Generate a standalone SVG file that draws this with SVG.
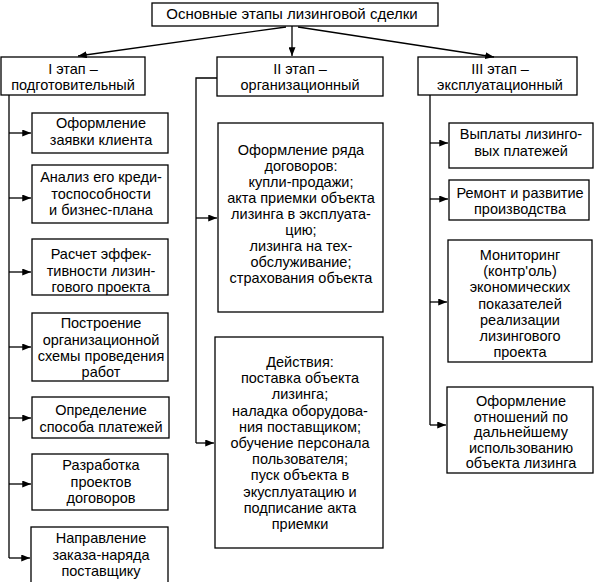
<svg xmlns="http://www.w3.org/2000/svg" width="599" height="582" viewBox="0 0 599 582">
<defs>
<marker id="arr" viewBox="0 0 10 8" refX="10" refY="4" markerWidth="9" markerHeight="7" markerUnits="userSpaceOnUse" orient="auto">
<path d="M0,0 L10,4 L0,8 Z" fill="#000"/>
</marker>
<style>
rect{fill:#fff;stroke:#000;stroke-width:1.3}
text{font-family:"Liberation Sans",Arial,sans-serif;font-size:14.5px;fill:#000;text-anchor:middle}
.c line,.c path{stroke:#000;stroke-width:1.3;fill:none}
</style>
</defs>
<rect x="0" y="0" width="599" height="582" style="stroke:none"/>
<g id="title"><rect x="152" y="3" width="286" height="23"/><text x="292" y="19" style="font-size:15px">Основные этапы лизинговой сделки</text></g>
<g id="h1"><rect x="1" y="57" width="144" height="38"/><text x="73" y="74">I этап –</text><text x="73" y="90">подготовительный</text></g>
<g id="h2"><rect x="217" y="57" width="166" height="39"/><text x="300" y="74">II этап –</text><text x="300" y="90">организационный</text></g>
<g id="h3"><rect x="418" y="57" width="159" height="38"/><text x="500" y="74">III этап –</text><text x="500" y="90">эксплуатационный</text></g>
<g id="l1"><rect x="32" y="113" width="136" height="40"/><text x="101" y="128">Оформление</text><text x="101" y="145">заявки клиента</text></g>
<g id="l2"><rect x="32" y="165" width="136" height="58"/><text x="101" y="182">Анализ его креди-</text><text x="101" y="198.5">тоспособности</text><text x="101" y="215">и бизнес-плана</text></g>
<g id="l3"><rect x="32" y="239" width="136" height="56"/><text x="101" y="259">Расчет эффек-</text><text x="101" y="275.5">тивности лизин-</text><text x="101" y="292">гового проекта</text></g>
<g id="l4"><rect x="32" y="313" width="136" height="68"/><text x="101" y="328">Построение</text><text x="101" y="344.5">организационной</text><text x="101" y="361">схемы проведения</text><text x="101" y="377">работ</text></g>
<g id="l5"><rect x="32" y="397" width="137" height="41"/><text x="101" y="415">Определение</text><text x="101" y="432">способа платежей</text></g>
<g id="l6"><rect x="32" y="454" width="136" height="56"/><text x="101" y="470">Разработка</text><text x="101" y="486.5">проектов</text><text x="101" y="503">договоров</text></g>
<g id="l7"><rect x="31" y="527" width="137" height="62"/><text x="101" y="543">Направление</text><text x="101" y="559.5">заказа-наряда</text><text x="101" y="576">поставщику</text></g>
<g id="m1"><rect x="218" y="123" width="165" height="189"/><text x="301" y="155">Оформление ряда</text><text x="301" y="171">договоров:</text><text x="301" y="187">купли-продажи;</text><text x="301" y="203">акта приемки объекта</text><text x="301" y="219">лизинга в эксплуата-</text><text x="301" y="235">цию;</text><text x="301" y="251">лизинга на тех-</text><text x="301" y="267">обслуживание;</text><text x="301" y="283">страхования объекта</text></g>
<g id="m2"><rect x="215" y="337" width="168" height="211"/><text x="300" y="367">Действия:</text><text x="300" y="383.2">поставка объекта</text><text x="300" y="399.4">лизинга;</text><text x="300" y="415.6">наладка оборудова-</text><text x="300" y="431.8">ния поставщиком;</text><text x="300" y="448">обучение персонала</text><text x="300" y="464.2">пользователя;</text><text x="300" y="480.4">пуск объекта в</text><text x="300" y="496.6">экусплуатацию и</text><text x="300" y="512.8">подписание акта</text><text x="300" y="529">приемки</text></g>
<g id="r1"><rect x="449" y="123" width="144" height="45"/><text x="521" y="139">Выплаты лизинго-</text><text x="521" y="156">вых платежей</text></g>
<g id="r2"><rect x="449" y="180" width="140" height="40"/><text x="520" y="198">Ремонт и развитие</text><text x="520" y="214">производства</text></g>
<g id="r3"><rect x="448" y="240" width="144" height="122"/><text x="520" y="260">Мониторинг</text><text x="520" y="276.2">(контр'оль)</text><text x="520" y="292.4">экономических</text><text x="520" y="308.6">показателей</text><text x="520" y="324.8">реализации</text><text x="520" y="341">лизингового</text><text x="520" y="357">проекта</text></g>
<g id="r4"><rect x="447" y="387" width="146" height="86"/><text x="521" y="406">Оформление</text><text x="521" y="421.5">отношений по</text><text x="521" y="437">дальнейшему</text><text x="521" y="452.5">использованию</text><text x="521" y="468">объекта лизинга</text></g>
<g id="connectors" class="c">
<line x1="286" y1="27" x2="78" y2="56" marker-end="url(#arr)"/>
<line x1="292" y1="26" x2="292" y2="56" marker-end="url(#arr)"/>
<line x1="298" y1="27" x2="494" y2="57" marker-end="url(#arr)"/>
<path d="M9,95 V558"/>
<line x1="9" y1="133" x2="31" y2="133" marker-end="url(#arr)"/>
<line x1="9" y1="198" x2="31" y2="198" marker-end="url(#arr)"/>
<line x1="9" y1="272" x2="31" y2="272" marker-end="url(#arr)"/>
<line x1="9" y1="347" x2="31" y2="347" marker-end="url(#arr)"/>
<line x1="9" y1="418" x2="31" y2="418" marker-end="url(#arr)"/>
<line x1="9" y1="484" x2="31" y2="484" marker-end="url(#arr)"/>
<line x1="9" y1="558" x2="30" y2="558" marker-end="url(#arr)"/>
<path d="M217,78 H196 V443"/>
<line x1="196" y1="218" x2="217" y2="218" marker-end="url(#arr)"/>
<line x1="196" y1="443" x2="214" y2="443" marker-end="url(#arr)"/>
<path d="M430,95 V425"/>
<line x1="430" y1="143" x2="448" y2="143" marker-end="url(#arr)"/>
<line x1="430" y1="199" x2="448" y2="199" marker-end="url(#arr)"/>
<line x1="430" y1="302" x2="447" y2="302" marker-end="url(#arr)"/>
<line x1="430" y1="425" x2="446" y2="425" marker-end="url(#arr)"/>
</g>
</svg>
